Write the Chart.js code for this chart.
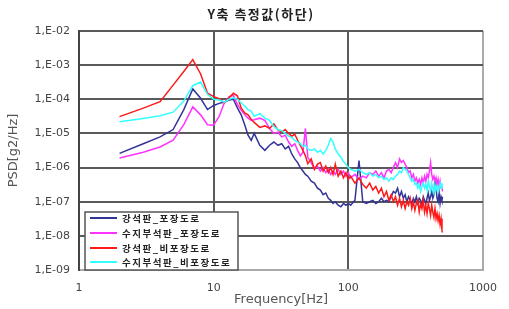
<!DOCTYPE html>
<html>
<head>
<meta charset="utf-8">
<script src="https://cdn.jsdelivr.net/npm/chart.js@4/dist/chart.umd.min.js"></script>
<style>
html,body{margin:0;padding:0;background:#fff;}
canvas{display:block;}
</style>
</head>
<body>
<canvas id="c" width="509" height="309"></canvas>
<script>
// ---- data ----
const chartTitle = 'Y축 측정값(하단)';
const xTitle = 'Frequency[Hz]';
const yTitle = 'PSD[g2/Hz]';
const xTicks = [1, 10, 100, 1000];
const xTickLabels = ['1', '10', '100', '1000'];
const yTicks = [1e-9, 1e-8, 1e-7, 1e-6, 1e-5, 1e-4, 1e-3, 1e-2];
const yTickLabels = ['1,E-09', '1,E-08', '1,E-07', '1,E-06', '1,E-05', '1,E-04', '1,E-03', '1,E-02'];

const seriesNames = ['강석판_포장도로', '수지부석판_포장도로', '강석판_비포장도로', '수지부석판_비포장도로'];
const seriesColors = ['#333399', '#ff33ff', '#ff1a1a', '#33ffff'];

const freqs = [
  2,3,4,5,6,7,8,9,10,11,
  12,13,14,15,16,17,18,19,20,22,
  24,26,28,30,32,34,36,38,40,42,
  44,46,48,50,53,56,59,62,65,68,
  71,74,77,80,84,88,92,96,100,104,
  112,120,128,136,144,152,160,168,176,184,
  192,200,208,216,224,232,240,248,256,264,
  272,280,288,296,304,312,320,328,336,344,
  352,360,368,376,384,392,400,408,416,424,
  432,440,448,456,464,472,480,488,496,500
];

const steelPaved = [
  2.6e-6,5.0e-6,7.9e-6,1.3e-5,5.0e-5,2.0e-4,1.07e-4,5.0e-5,6.6e-5,7.6e-5,
  8.3e-5,9.5e-5,1.0e-4,5.6e-5,3.5e-5,1.8e-5,8.9e-6,6.3e-6,1.0e-5,4.5e-6,
  3.2e-6,4.5e-6,5.6e-6,4.5e-6,5.0e-6,3.5e-6,4.2e-6,2.5e-6,1.8e-6,1.4e-6,
  1.0e-6,7.9e-7,6.3e-7,5.6e-7,4.0e-7,3.5e-7,2.5e-7,2.2e-7,1.6e-7,1.8e-7,
  1.26e-7,1.1e-7,8.9e-8,1.0e-7,7.9e-8,7.1e-8,8.9e-8,7.9e-8,8.9e-8,7.9e-8,
  1.1e-7,1.6e-6,1.0e-7,8.9e-8,1.0e-7,1.1e-7,8.9e-8,1.0e-7,1.26e-7,1.0e-7,
  1.1e-7,1.0e-7,1.4e-7,2.0e-7,1.8e-7,2.5e-7,1.4e-7,2.0e-7,1.26e-7,1.6e-7,
  1.0e-7,1.4e-7,1.1e-7,8.9e-8,1.26e-7,1.0e-7,1.4e-7,8.9e-8,1.26e-7,1.1e-7,
  7.9e-8,1.4e-7,1.1e-7,8.9e-8,1.26e-7,1.8e-7,1.1e-7,1.4e-7,2.0e-7,1.26e-7,
  1.6e-7,5.0e-7,2.5e-7,1.26e-7,1.0e-7,1.8e-7,8.9e-8,1.4e-7,1.1e-7,1.4e-7
];

const resinPaved = [
  1.9e-6,2.8e-6,4.0e-6,6.3e-6,1.8e-5,6.0e-5,3.5e-5,1.8e-5,1.75e-5,3.2e-5,
  7.9e-5,1.2e-4,1.3e-4,7.1e-5,4.8e-5,3.5e-5,2.8e-5,2.4e-5,2.5e-5,2.8e-5,
  2.4e-5,1.4e-5,1.0e-5,1.1e-5,7.9e-6,8.9e-6,5.6e-6,4.2e-6,5.0e-6,3.2e-6,
  2.2e-6,2.8e-6,1.4e-5,2.0e-6,1.4e-6,8.9e-7,1.1e-6,7.9e-7,1.0e-6,7.1e-7,
  8.9e-7,6.3e-7,7.9e-7,6.3e-7,8.9e-7,6.3e-7,7.9e-7,5.6e-7,7.1e-7,5.0e-7,
  6.3e-7,4.5e-7,5.6e-7,5.0e-7,7.1e-7,6.3e-7,7.9e-7,5.6e-7,7.1e-7,5.0e-7,
  7.9e-7,8.9e-7,7.1e-7,1.0e-6,1.4e-6,1.0e-6,1.8e-6,1.4e-6,1.6e-6,1.26e-6,
  1.0e-6,7.1e-7,7.9e-7,5.0e-7,6.3e-7,4.0e-7,5.0e-7,3.5e-7,4.5e-7,3.2e-7,
  5.0e-7,3.5e-7,5.6e-7,4.0e-7,6.3e-7,5.0e-7,7.9e-7,1.4e-6,6.3e-7,4.5e-7,
  5.6e-7,4.0e-7,5.0e-7,3.2e-7,4.5e-7,2.8e-7,4.0e-7,2.5e-7,2.8e-7,2.0e-7
];

const steelUnpaved = [
  3.1e-5,5.5e-5,8.5e-5,2.6e-4,6.5e-4,1.45e-3,5.5e-4,1.5e-4,1.2e-4,1.05e-4,
  7.9e-5,1.1e-4,1.5e-4,1.26e-4,5.6e-5,4.0e-5,3.5e-5,2.6e-5,2.1e-5,1.5e-5,
  1.66e-5,1.4e-5,1.9e-5,1.26e-5,1.1e-5,1.3e-5,1.0e-5,8.3e-6,9.5e-6,6.3e-6,
  4.5e-6,3.2e-6,2.2e-6,1.3e-6,1.8e-6,8.9e-7,1.26e-6,1.4e-6,7.9e-7,1.1e-6,
  7.1e-7,1.0e-6,6.3e-7,1.26e-6,5.6e-7,7.9e-7,5.0e-7,7.1e-7,4.5e-7,5.6e-7,
  3.5e-7,5.0e-7,3.2e-7,2.5e-7,3.5e-7,2.2e-7,2.8e-7,1.8e-7,2.5e-7,1.4e-7,
  2.0e-7,1.1e-7,1.6e-7,1.0e-7,1.4e-7,7.9e-8,1.26e-7,7.1e-8,1.1e-7,6.3e-8,
  1.0e-7,7.9e-8,1.26e-7,6.3e-8,1.0e-7,5.6e-8,8.9e-8,1.1e-7,5.0e-8,8.9e-8,
  6.3e-8,1.1e-7,5.0e-8,7.9e-8,4.5e-8,8.9e-8,6.3e-8,4.0e-8,7.9e-8,5.0e-8,
  3.5e-8,6.3e-8,3.2e-8,4.5e-8,2.8e-8,4.0e-8,2.2e-8,3.2e-8,1.4e-8,1.26e-8
];

const resinUnpaved = [
  2.2e-5,2.75e-5,3.3e-5,4.2e-5,8.9e-5,2.5e-4,3.2e-4,1.4e-4,1.0e-4,9.5e-5,
  8.3e-5,1.0e-4,1.1e-4,1.0e-4,7.9e-5,6.3e-5,5.0e-5,4.5e-5,3.2e-5,3.8e-5,
  2.8e-5,2.4e-5,1.6e-5,1.3e-5,1.2e-5,1.0e-5,8.3e-6,7.6e-6,6.3e-6,5.6e-6,
  5.0e-6,4.2e-6,4.5e-6,3.5e-6,3.2e-6,3.5e-6,2.8e-6,3.2e-6,2.5e-6,3.2e-6,
  4.5e-6,7.1e-6,5.6e-6,3.5e-6,2.5e-6,2.0e-6,1.5e-6,1.26e-6,1.0e-6,8.9e-7,
  7.9e-7,8.9e-7,7.1e-7,6.3e-7,7.1e-7,5.6e-7,6.3e-7,5.0e-7,5.6e-7,4.5e-7,
  5.0e-7,4.0e-7,5.0e-7,4.5e-7,5.6e-7,6.3e-7,7.9e-7,7.1e-7,1.0e-6,8.9e-7,
  7.9e-7,6.3e-7,5.0e-7,4.0e-7,4.5e-7,3.2e-7,3.5e-7,2.5e-7,3.2e-7,2.0e-7,
  2.8e-7,3.5e-7,2.5e-7,3.2e-7,2.2e-7,4.0e-7,2.8e-7,2.0e-7,3.5e-7,2.5e-7,
  1.8e-7,3.2e-7,2.2e-7,2.8e-7,2.0e-7,2.5e-7,3.5e-7,2.5e-7,3.2e-7,3.5e-7
];

const seriesValues = [steelPaved, resinPaved, steelUnpaved, resinUnpaved];

// ---- chart ----
const datasets = seriesValues.map((vals, i) => ({
  label: seriesNames[i],
  data: freqs.map((f, j) => ({ x: f, y: vals[j] })),
  borderColor: seriesColors[i],
  backgroundColor: seriesColors[i],
  borderWidth: 1.5,
  pointRadius: 0,
  tension: 0,
  fill: false,
  order: seriesValues.length - i
}));

const decor = {
  id: 'decor',
  afterDraw(chart) {
    const ctx = chart.ctx;
    ctx.save();
    // title
    ctx.font = 'bold 13px "Noto Sans CJK KR"';
    ctx.letterSpacing = '1.5px';
    ctx.fillStyle = '#222';
    ctx.textAlign = 'center';
    ctx.textBaseline = 'middle';
    ctx.fillText(chartTitle, 261, 14);
    // legend box
    const bx = 85, by = 212, bw = 153, bh = 58;
    ctx.fillStyle = '#fff';
    ctx.fillRect(bx, by, bw, bh);
    ctx.strokeStyle = '#555';
    ctx.lineWidth = 1.5;
    ctx.strokeRect(bx, by, bw, bh);
    const rows = [218, 233, 248, 262];
    ctx.textAlign = 'left';
    ctx.font = 'bold 9.5px "Noto Sans CJK KR"';
    seriesNames.forEach((name, i) => {
      ctx.strokeStyle = seriesColors[i];
      ctx.lineWidth = 2;
      ctx.beginPath();
      ctx.moveTo(90, rows[i]);
      ctx.lineTo(117, rows[i]);
      ctx.stroke();
      ctx.fillStyle = '#222';
      ctx.fillText(name, 122, rows[i] + 0.5);
    });
    ctx.restore();
  }
};

const gridDark = '#5a5a5a';
const edgeLight = '#aaaaaa';

new Chart(document.getElementById('c'), {
  type: 'line',
  data: { datasets },
  options: {
    responsive: false,
    animation: false,
    devicePixelRatio: 1,
    layout: { padding: { top: 31, right: 17, bottom: 0, left: 0 } },
    plugins: {
      legend: { display: false },
      tooltip: { enabled: false },
      title: { display: false }
    },
    scales: {
      x: {
        type: 'logarithmic',
        position: 'bottom',
        min: 1,
        max: 1000,
        afterBuildTicks: (s) => { s.ticks = xTicks.map(v => ({ value: v })); },
        afterFit: (s) => { s.height = 39; },
        ticks: {
          autoSkip: false,
          maxRotation: 0,
          padding: 12,
          color: '#444',
          font: { family: 'DejaVu Sans', size: 11 },
          callback: (v, i) => xTickLabels[i]
        },
        grid: {
          drawTicks: false,
          lineWidth: 2,
          color: (c) => (c.tick && c.tick.value === 1000) ? edgeLight : gridDark
        },
        border: { display: true, color: edgeLight, width: 2 },
        title: {
          display: true,
          text: xTitle,
          color: '#555',
          font: { family: 'DejaVu Sans', size: 13 },
          padding: { top: 0, bottom: 2 }
        }
      },
      y: {
        type: 'logarithmic',
        position: 'left',
        min: 1e-9,
        max: 1e-2,
        afterBuildTicks: (s) => { s.ticks = yTicks.map(v => ({ value: v })); },
        afterFit: (s) => { s.width = 79; },
        ticks: {
          autoSkip: false,
          padding: 9,
          color: '#444',
          font: { family: 'DejaVu Sans', size: 11 },
          callback: (v, i) => yTickLabels[i]
        },
        grid: {
          drawTicks: false,
          lineWidth: 2,
          color: (c) => (c.tick && c.tick.value === 1e-9) ? edgeLight : gridDark
        },
        border: { display: true, color: '#444', width: 2 },
        title: {
          display: true,
          text: yTitle,
          color: '#555',
          font: { family: 'DejaVu Sans', size: 13 },
          padding: { top: 6, bottom: 0 }
        }
      }
    }
  },
  plugins: [decor]
});
</script>
</body>
</html>
